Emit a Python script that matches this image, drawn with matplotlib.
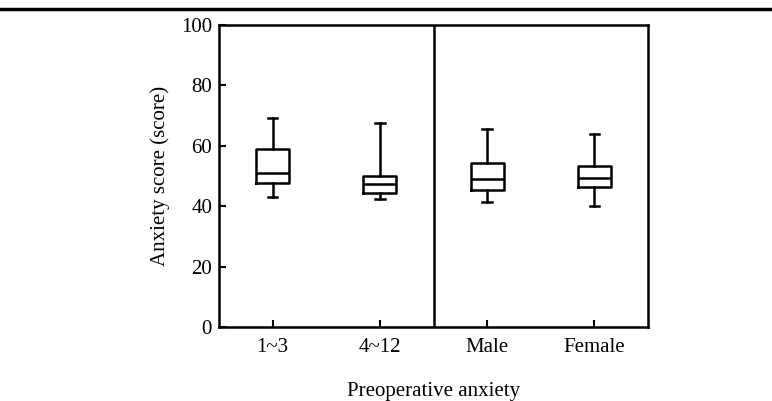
import matplotlib.pyplot as plt
from matplotlib.lines import Line2D

plt.rcParams['font.family'] = ['Liberation Serif', 'DejaVu Serif']

# box statistics
groups = ['1~3', '4~12', 'Male', 'Female']
whislo = [43.0, 42.3, 41.3, 40.2]
q1 = [47.8, 44.5, 45.2, 46.2]
med = [50.9, 47.3, 49.0, 49.4]
q3 = [58.9, 50.0, 54.2, 53.4]
whishi = [69.2, 67.4, 65.6, 63.8]

stats = []
for i, g in enumerate(groups):
    stats.append({'label': g, 'whislo': whislo[i], 'q1': q1[i], 'med': med[i],
                  'q3': q3[i], 'whishi': whishi[i], 'fliers': []})

fig = plt.figure(figsize=(7.72, 4.01), dpi=100)
ax = fig.add_axes([219 / 772, 1 - 327 / 401, 429 / 772, 302 / 401])

lw = 1.8
ax.bxp(stats, positions=[1, 2, 3, 4], widths=0.31, capwidths=0.09,
       showfliers=False, patch_artist=False,
       boxprops=dict(color='black', linewidth=lw),
       medianprops=dict(color='black', linewidth=lw),
       whiskerprops=dict(color='black', linewidth=lw),
       capprops=dict(color='black', linewidth=lw))

ax.axvline(2.5, color='black', linewidth=lw)
ax.set_xlim(0.5, 4.5)
ax.set_ylim(0, 100)
ax.set_yticks([0, 20, 40, 60, 80, 100])
ax.set_xticks([1, 2, 3, 4])
ax.set_xticklabels(groups)
for s in ax.spines.values():
    s.set_linewidth(lw)
ax.tick_params(direction='in', length=5, width=1.5, labelsize=15, pad=5)
ax.tick_params(axis='x', pad=8)
ax.set_ylabel('Anxiety score (score)', fontsize=15, labelpad=8)
ax.set_xlabel('Preoperative anxiety', fontsize=15, labelpad=18)

# rule across the top of the figure
fig.add_artist(Line2D([0, 1], [1 - 9 / 401, 1 - 9 / 401], color='black', linewidth=2.5))

fig.savefig('out.png', dpi=100)
